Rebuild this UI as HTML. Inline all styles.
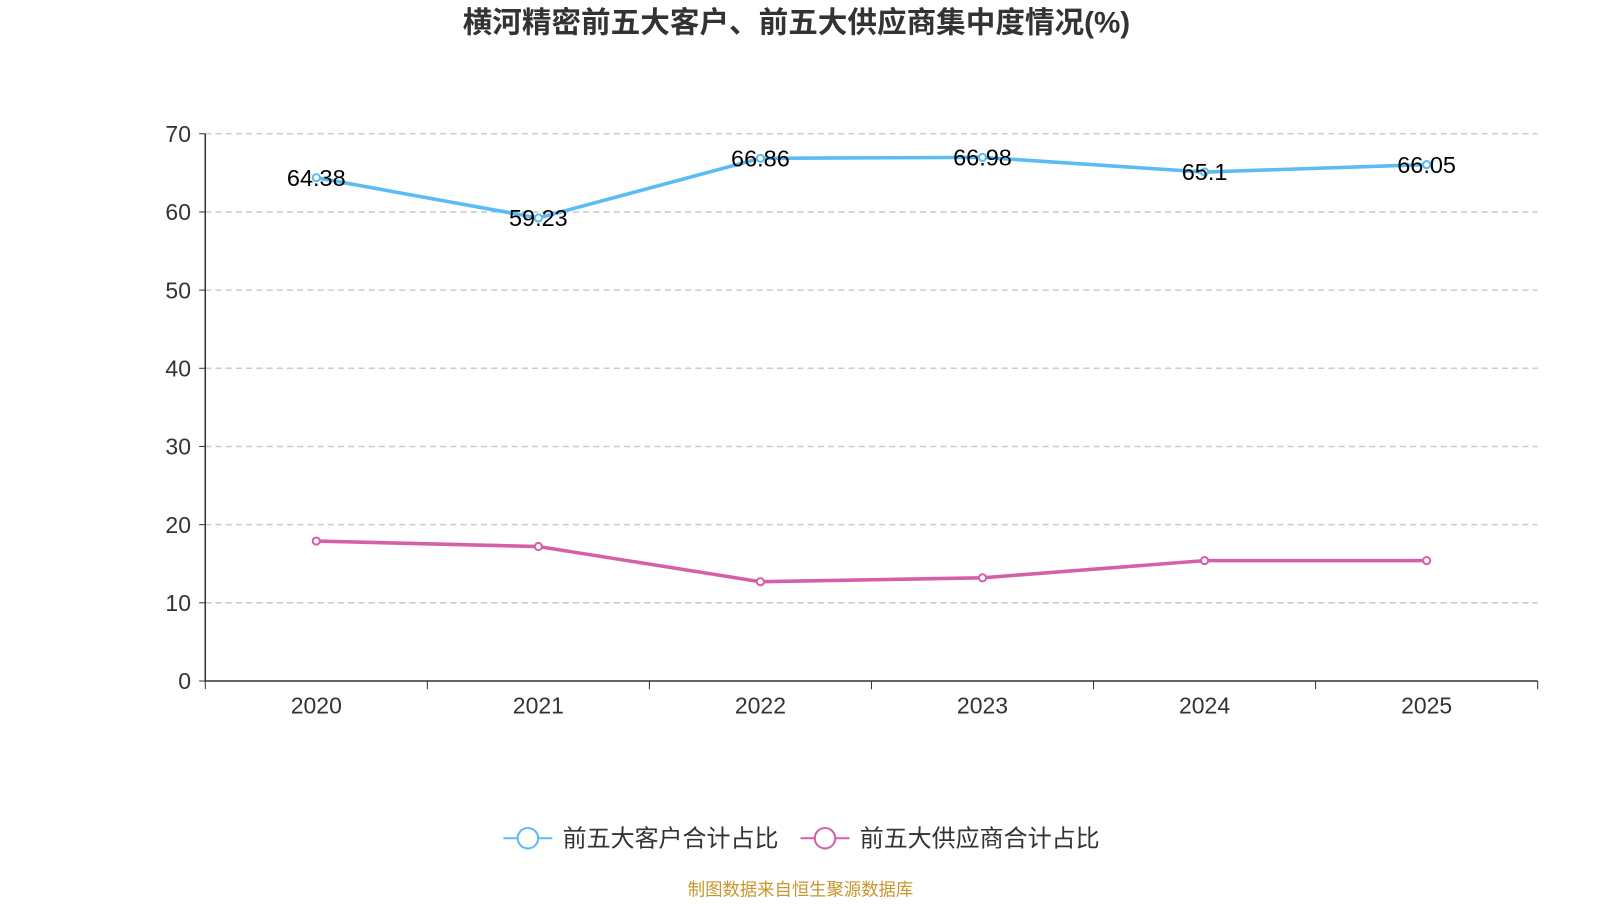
<!DOCTYPE html>
<html><head><meta charset="utf-8"><style>
body{margin:0;background:#fff;font-family:"Liberation Sans","Noto Sans CJK SC",sans-serif;}
</style></head><body>
<svg id="chart" width="1600" height="900" viewBox="0 0 1567 881.5" xmlns="http://www.w3.org/2000/svg">
<text x="780" y="32" text-anchor="middle" font-size="29" font-weight="bold" fill="#333" font-family="Liberation Sans, Noto Sans CJK SC, sans-serif">横河精密前五大客户、前五大供应商集中度情况(%)</text>
<g id="grid"></g>
<g id="axes"></g>
<g id="series"></g>
<g>
<g>
<line x1="493" y1="821" x2="541" y2="821" stroke="#5bbcf5" stroke-width="2"/>
<circle cx="517" cy="821" r="10" fill="#fff" stroke="#5bbcf5" stroke-width="2"/>
<text x="551" y="829" font-size="23.5" fill="#333">前五大客户合计占比</text>
</g>
<g>
<line x1="784" y1="821" x2="832" y2="821" stroke="#d660a8" stroke-width="2"/>
<circle cx="808" cy="821" r="10" fill="#fff" stroke="#d660a8" stroke-width="2"/>
<text x="842" y="829" font-size="23.5" fill="#333">前五大供应商合计占比</text>
</g>
</g>
<text x="784" y="877" text-anchor="middle" font-size="17" fill="#c8962e">制图数据来自恒生聚源数据库</text>
</svg>
<script>
const categories=["2020","2021","2022","2023","2024","2025"];
const customers=[64.38,59.23,66.86,66.98,65.1,66.05];
const suppliers=[17.9,17.2,12.7,13.2,15.4,15.4];
const yTicks=[0,10,20,30,40,50,60,70];
const NS="http://www.w3.org/2000/svg";
const L=201,R=1506,T=131,B=667,yMax=70;
const bw=(R-L)/categories.length;
const xs=i=>L+bw*(i+0.5);
const ys=v=>B-(v/yMax)*(B-T);
function mk(tag,attrs,parent){const e=document.createElementNS(NS,tag);for(const k in attrs)e.setAttribute(k,attrs[k]);parent.appendChild(e);return e;}
const grid=document.getElementById('grid'),axes=document.getElementById('axes'),ser=document.getElementById('series');
yTicks.forEach(t=>{
 if(t>0){const g=mk('line',{x1:L,x2:R,y1:ys(t),y2:ys(t),stroke:'#ccc','stroke-dasharray':'6,4','stroke-width':1.5},grid);
 
 }
 mk('line',{x1:L-6,x2:L,y1:ys(t),y2:ys(t),stroke:'#333'},axes);
 const tx=mk('text',{x:L-14,y:ys(t)+8,'text-anchor':'end','font-size':22.5,fill:'#333'},axes);tx.textContent=t;
 
 
});
mk('line',{x1:L,x2:L,y1:T,y2:B,stroke:'#333','stroke-width':1.5},axes);
mk('line',{x1:L,x2:R,y1:B,y2:B,stroke:'#333','stroke-width':1.5},axes);
for(let i=0;i<=categories.length;i++)mk('line',{x1:L+bw*i,x2:L+bw*i,y1:B,y2:B+8,stroke:'#333'},axes);
categories.forEach((c,i)=>{const tx=mk('text',{x:xs(i),y:B+32,'text-anchor':'middle','font-size':22.5,fill:'#333'},axes);tx.textContent=c;
 
 });
function drawSeries(vals,color,name,labels){
 const p=mk('polyline',{points:vals.map((v,i)=>xs(i)+','+ys(v)).join(' '),fill:'none',stroke:color,'stroke-width':3.5},ser);
 
 
 vals.forEach((v,i)=>{const c=mk('circle',{cx:xs(i),cy:ys(v),r:3.5,fill:'#fff',stroke:color,'stroke-width':2},ser);
  
  
  if(labels){const t=mk('text',{x:xs(i),y:ys(v)+8,'text-anchor':'middle','font-size':23,fill:'#000'},ser);t.textContent=v;
   
   }
 });
}
drawSeries(suppliers,'#d660a8','suppliers',false);
drawSeries(customers,'#5bbcf5','customers',true);
</script>
</body></html>
